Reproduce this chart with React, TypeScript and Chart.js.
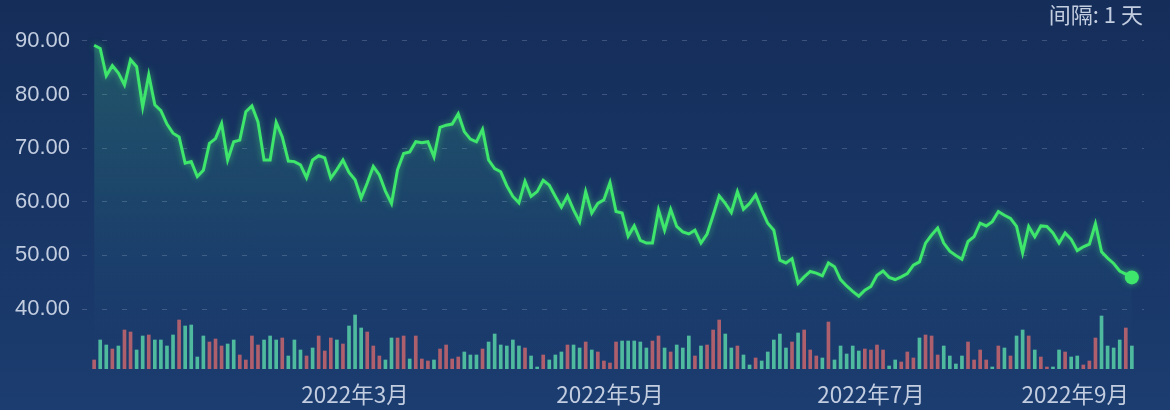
import React, { useEffect, useRef } from "react";
import { Chart, registerables } from "chart.js";

Chart.register(...registerables);

// ---- data ----
const prices: number[] = [
  89.2, 88.6, 83.5, 85.4, 84.0, 81.8, 86.5, 85.2, 77.7, 83.7,
  78.1, 77.0, 74.5, 72.8, 72.1, 67.2, 67.5, 64.7, 65.9, 70.9,
  71.8, 74.6, 67.8, 71.2, 71.5, 76.8, 77.9, 74.9, 67.8, 67.8,
  74.8, 72.1, 67.6, 67.5, 66.9, 64.5, 67.8, 68.6, 68.2, 64.4,
  66.0, 67.8, 65.5, 64.1, 60.7, 63.5, 66.6, 65.0, 62.0, 59.7,
  66.0, 69.0, 69.3, 71.2, 71.0, 71.2, 68.4, 73.9, 74.3, 74.5,
  76.4, 73.1, 71.7, 71.2, 73.5, 67.8, 66.2, 65.6, 63.0, 61.0,
  59.8, 63.8, 61.0, 61.9, 64.0, 63.1, 61.0, 59.0, 61.1, 58.5,
  56.3, 61.9, 57.9, 59.7, 60.4, 63.6, 58.2, 57.9, 53.6, 55.5,
  52.8, 52.3, 52.3, 58.5, 54.7, 58.6, 55.4, 54.4, 54.0, 54.7,
  52.3, 54.0, 57.5, 61.1, 59.7, 58.0, 61.9, 58.6, 59.7, 61.3,
  58.5, 56.0, 54.7, 49.1, 48.6, 49.4, 44.8, 46.0, 47.0, 46.7,
  46.2, 48.6, 47.9, 45.5, 44.3, 43.3, 42.4, 43.5, 44.2, 46.3,
  47.1, 45.9, 45.5, 46.0, 46.6, 48.2, 48.8, 52.3, 53.8, 55.1,
  52.3, 50.8, 50.0, 49.3, 52.6, 53.5, 56.0, 55.5, 56.3, 58.2,
  57.5, 56.9, 55.4, 50.5, 55.4, 53.5, 55.5, 55.4, 54.2, 52.3,
  54.2, 53.0, 50.9, 51.6, 52.1, 55.9, 50.7, 49.5, 48.5, 47.1,
  46.5, 45.9,
];

const volumes: number[] = [
  9, 29, 24, 20, 23, 39, 37, 19, 33, 34,
  29, 29, 23, 34, 49, 43, 44, 12, 33, 27,
  30, 23, 25, 29, 14, 9, 33, 24, 29, 33,
  29, 31, 13, 29, 19, 13, 21, 33, 18, 31,
  29, 25, 43, 54, 41, 37, 23, 13, 9, 31,
  31,
  33, 10, 33, 10, 8, 9, 20, 24, 10, 12,
  17, 14, 14, 20, 27, 35, 24, 23, 29, 23,
  21, 13, 2, 14, 9, 14, 17, 24, 24, 21,
  27, 19, 17, 8, 6, 27, 28, 28, 28, 27,
  21, 28, 33, 21, 17, 24, 21, 33, 13, 23,
  24, 39, 49, 35, 21, 23, 14, 4, 11, 8,
  17, 29, 35, 21, 27, 36,
  39, 19, 13, 11, 47, 9, 23, 15, 23, 18,
  20, 19, 24, 19, 3, 9, 7, 17, 11, 31,
  34, 33, 14, 23, 13, 5, 13, 27, 9, 19,
  9, 2, 23, 21, 13, 33, 39, 33, 19, 12,
  2, 2, 19, 17, 12, 13, 4, 8, 31, 53,
  23, 21, 29, 41, 23,
];

// r = red bar, g = green bar
const volumeDir: string[] = [
  "r","g","g","r","g","r","r","g","g","r",
  "g","g","g","g","r","g","g","g","g","r",
  "r","r","g","g","r","r","r","r","g","g",
  "g","r","g","g","g","r","g","r","r","r",
  "g","r","g","g","g","r","r","r","g","g",
  "r",
  "r","g","r","r","r","g","r","r","r","r",
  "g","g","g","r","g","g","g","g","g","g",
  "r","g","g","r","g","g","g","r","g","g",
  "r","g","r","r","r","r","g","g","g","g",
  "g","r","r","g","r","g","g","g","r","g",
  "r","r","r","g","g","r","g","g","r","g",
  "g","g","g","g","r","g",
  "r","r","r","g","r","g","g","g","g","g",
  "r","r","r","r","g","g","r","r","r","g",
  "r","r","r","g","g","g","g","r","r","r",
  "r","g","r","g","r","g","g","r","g","r",
  "r","g","g","r","g","g","r","r","r","g",
  "g","g","g","r","g",
];

const priceTicks: number[] = [40, 50, 60, 70, 80, 90];
const monthTickIndex: number[] = [43, 85, 128, 171];
const monthTickLabels: string[] = ["2022年3月", "2022年5月", "2022年7月", "2022年9月"];
const intervalLabel = "间隔: 1 天";

const LINE_COLOR = "#3fe66c";
const RED_BAR = "#b05f6c";
const GREEN_BAR = "#4fbb9e";
const TEXT_COLOR = "#c3cde0";

export default function App() {
  const canvasRef = useRef<HTMLCanvasElement | null>(null);

  useEffect(() => {
    const canvas = canvasRef.current;
    if (!canvas) return;

    const overlay = {
      id: "overlay",
      beforeDatasetDraw(chart: any, args: any) {
        if (args.index === 0) {
          const c = chart.ctx;
          c.save();
          c.shadowColor = "rgba(70,240,120,0.55)";
          c.shadowBlur = 6;
        }
      },
      afterDatasetDraw(chart: any, args: any) {
        if (args.index === 0) chart.ctx.restore();
      },
      afterDraw(chart: any) {
        const c = chart.ctx;
        const xs = chart.scales.x;
        const area = chart.chartArea;
        c.save();
        c.fillStyle = TEXT_COLOR;
        c.font = '22.5px "Noto Sans CJK SC", "Noto Sans", sans-serif';
        c.textBaseline = "middle";
        c.textAlign = "center";
        monthTickIndex.forEach((idx, k) => {
          const label = monthTickLabels[k];
          const w = c.measureText(label).width;
          let px = xs.getPixelForValue(idx);
          const maxCenter = area.right - 15 - w / 2;
          if (px > maxCenter) px = maxCenter;
          c.fillText(label, px, 394);
        });
        c.font = '22px "Noto Sans CJK SC", "Noto Sans", sans-serif';
        c.textAlign = "right";
        c.fillText(intervalLabel, 1143, 15);
        c.restore();
      },
    };

    const chart = new Chart(canvas, {
      type: "bar",
      data: {
        datasets: [
          {
            type: "line",
            label: "price",
            data: prices.map((v, i) => ({ x: i, y: v })),
            borderColor: LINE_COLOR,
            borderWidth: 3,
            tension: 0,
            fill: "start",
            backgroundColor: (ctx: any) => {
              const ca = ctx.chart.chartArea;
              if (!ca) return "rgba(0,0,0,0)";
              const g = ctx.chart.ctx.createLinearGradient(0, ca.top, 0, ca.bottom);
              g.addColorStop(0, "rgba(70,200,140,0.28)");
              g.addColorStop(0.55, "rgba(60,170,150,0.12)");
              g.addColorStop(0.9, "rgba(40,120,150,0.02)");
              g.addColorStop(1, "rgba(40,120,150,0)");
              return g;
            },
            pointRadius: (ctx: any) => (ctx.dataIndex === prices.length - 1 ? 7 : 0),
            pointBackgroundColor: LINE_COLOR,
            pointBorderWidth: 0,
            pointHoverRadius: 0,
            yAxisID: "y",
            xAxisID: "x",
            order: 0,
          } as any,
          {
            type: "bar",
            label: "volume",
            data: volumes.map((v, i) => ({ x: i, y: v })),
            backgroundColor: volumeDir.map((d) => (d === "r" ? RED_BAR : GREEN_BAR)),
            barThickness: 3,
            yAxisID: "yv",
            xAxisID: "x",
            order: 1,
          } as any,
        ],
      },
      options: {
        responsive: false,
        devicePixelRatio: 1,
        animation: false,
        events: [],
        layout: { padding: { top: 30, bottom: 41, left: 0, right: 26 } },
        plugins: {
          legend: { display: false },
          tooltip: { enabled: false },
          title: { display: false },
        },
        scales: {
          x: {
            type: "linear",
            display: false,
            min: -2,
            max: 173,
            offset: false,
            grid: { display: false },
          },
          y: {
            type: "linear",
            position: "left",
            min: 28.81,
            max: 92.05,
            afterBuildTicks: (s: any) => {
              s.ticks = priceTicks.map((v) => ({ value: v }));
            },
            afterFit: (s: any) => {
              s.width = 82;
            },
            grid: { color: "rgba(200,215,240,0.22)", lineWidth: 1, drawTicks: false },
            border: { display: false, dash: [5, 15] },
            ticks: {
              padding: 12,
              color: TEXT_COLOR,
              font: { family: '"Liberation Sans", Arial, sans-serif', size: 22 },
              callback: (v: any) => Number(v).toFixed(2),
            },
          },
          yv: {
            type: "linear",
            display: false,
            min: 0,
            max: 339,
            grid: { display: false },
          },
        },
      } as any,
      plugins: [overlay],
    });

    return () => chart.destroy();
  }, []);

  return (
    <div
      style={{
        position: "fixed",
        left: 0,
        top: 0,
        width: 1170,
        height: 410,
        background: "linear-gradient(180deg, #152d59 0%, #183565 50%, #1c3d70 100%)",
        overflow: "hidden",
      }}
    >
      <canvas ref={canvasRef} width={1170} height={410} style={{ display: "block", width: 1170, height: 410 }} />
    </div>
  );
}
